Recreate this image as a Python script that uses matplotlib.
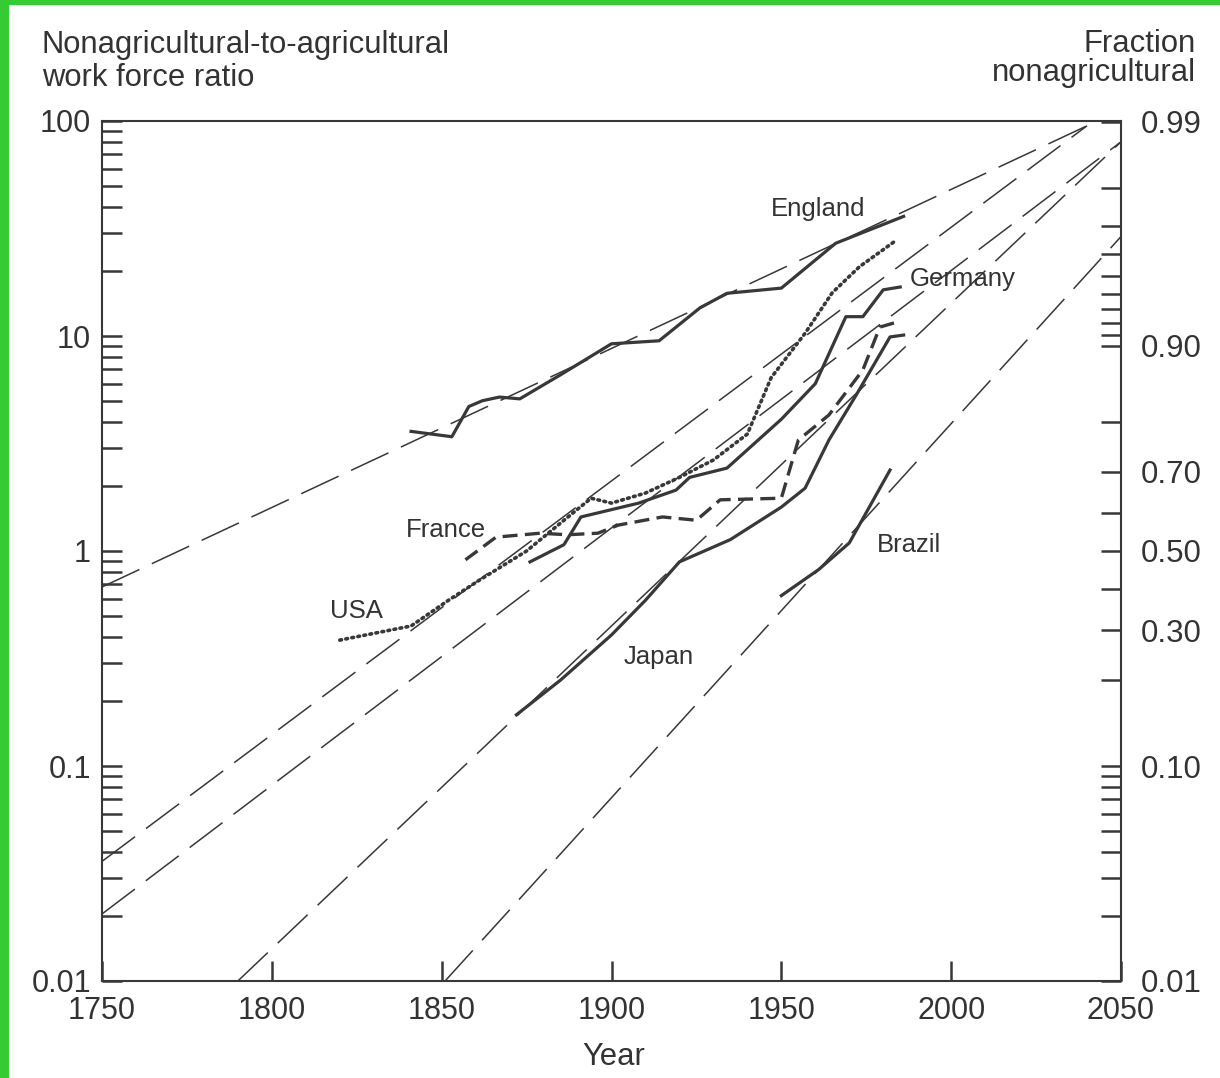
import matplotlib
matplotlib.use("Agg")
import matplotlib.pyplot as plt
from matplotlib.patches import Rectangle
from matplotlib.ticker import LogLocator, NullFormatter, FixedLocator, NullLocator

plt.rcParams["font.family"] = ["Liberation Sans", "DejaVu Sans"]

# data: (year, nonagricultural / agricultural ratio)
england_years = [1841, 1853, 1858, 1862, 1867, 1873, 1885, 1900, 1914, 1926, 1934, 1950, 1966, 1986]
england_ratio = [3.6, 3.4, 4.7, 5.0, 5.2, 5.1, 6.6, 9.2, 9.5, 13.5, 15.8, 16.7, 27, 36]

usa_years = [1820, 1841, 1852, 1861, 1875, 1886, 1894, 1900, 1910, 1920, 1930, 1940, 1947, 1957, 1965, 1973, 1984]
usa_ratio = [0.385, 0.448, 0.59, 0.73, 1.0, 1.39, 1.76, 1.67, 1.86, 2.2, 2.65, 3.5, 6.4, 10.3, 15.9, 21, 28]

germany_years = [1876, 1886, 1891, 1908, 1919, 1923, 1934, 1950, 1960, 1969, 1974, 1980, 1985]
germany_ratio = [0.89, 1.07, 1.44, 1.67, 1.92, 2.2, 2.43, 4.1, 6.0, 12.3, 12.3, 16.4, 16.9]

france_years = [1857, 1866, 1879, 1887, 1896, 1902, 1915, 1925, 1932, 1950, 1955, 1964, 1974, 1979, 1984]
france_ratio = [0.91, 1.16, 1.21, 1.19, 1.21, 1.32, 1.44, 1.39, 1.73, 1.76, 3.28, 4.29, 6.95, 11.0, 11.6]

japan_years = [1872, 1885, 1900, 1910, 1920, 1935, 1950, 1957, 1964, 1972, 1982, 1986]
japan_ratio = [0.173, 0.251, 0.407, 0.59, 0.89, 1.13, 1.6, 1.96, 3.28, 5.3, 9.9, 10.1]

brazil_years = [1950, 1961, 1970, 1982]
brazil_ratio = [0.62, 0.82, 1.09, 2.38]

# long-dashed trend lines: start and end points
trend_start_year = [1750, 1750, 1750, 1790, 1851]
trend_start_ratio = [0.68, 0.036, 0.0205, 0.01, 0.01]
trend_end_year = [2040, 2040, 2050, 2050, 2050]
trend_end_ratio = [95, 95, 80, 80, 29]

x_ticks = [1750, 1800, 1850, 1900, 1950, 2000, 2050]
left_ticks = [0.01, 0.1, 1, 10, 100]
left_labels = ["0.01", "0.1", "1", "10", "100"]
right_fracs = [0.99, 0.98, 0.97, 0.96, 0.95, 0.94, 0.93, 0.92, 0.91, 0.90,
               0.80, 0.70, 0.60, 0.50, 0.40, 0.30, 0.20,
               0.10, 0.09, 0.08, 0.07, 0.06, 0.05, 0.04, 0.03, 0.02, 0.01]
right_labeled = [0.99, 0.90, 0.70, 0.50, 0.30, 0.10, 0.01]

INK = "#383838"


def frac_to_ratio(f):
    # small fractions are put at ratio ~ fraction, as on the original scale
    if f <= 0.1:
        return f
    return f / (1 - f)


fig = plt.figure(figsize=(12.2, 10.78), dpi=100)
fig.patches.append(Rectangle((0, 1 - 4 / 1078), 1, 4 / 1078, transform=fig.transFigure,
                             color="#35cc33", zorder=0))
fig.patches.append(Rectangle((0, 0), 8 / 1220, 1, transform=fig.transFigure,
                             color="#35cc33", zorder=0))

ax = fig.add_axes([102 / 1220, 1 - 981 / 1078, 1019 / 1220, 860 / 1078])
ax.set_yscale("log")
ax.set_xlim(1750, 2050)
ax.set_ylim(0.01, 100)

for x0, y0, x1, y1 in zip(trend_start_year, trend_start_ratio, trend_end_year, trend_end_ratio):
    ax.plot([x0, x1], [y0, y1], color=INK, lw=1.1, linestyle=(0, (27, 9)))

solid = dict(color=INK, lw=2.3, solid_joinstyle="round")
ax.plot(england_years, england_ratio, **solid)
ax.plot(germany_years, germany_ratio, **solid)
ax.plot(japan_years, japan_ratio, **solid)
ax.plot(brazil_years, brazil_ratio, **solid)
ax.plot(usa_years, usa_ratio, color=INK, lw=2.6, linestyle=(0, (0.5, 1.2)),
        dash_capstyle="round")
ax.plot(france_years, france_ratio, color=INK, lw=2.4, linestyle=(0, (4.5, 2.2)))

label_kw = dict(fontsize=18.5, color="#333333", ha="center", va="center")
ax.text(1960.8, 39.0, "England", **label_kw)
ax.text(2003.5, 18.4, "Germany", **label_kw)
ax.text(1851.3, 1.25, "France", **label_kw)
ax.text(1824.8, 0.526, "USA", **label_kw)
ax.text(1914.0, 0.321, "Japan", **label_kw)
ax.text(1987.6, 1.07, "Brazil", **label_kw)

# left axis
ax.set_xticks(x_ticks)
ax.set_xticklabels([str(x) for x in x_ticks])
ax.set_yticks(left_ticks)
ax.set_yticklabels(left_labels)
ax.yaxis.set_minor_locator(LogLocator(base=10, subs=range(2, 10)))
ax.yaxis.set_minor_formatter(NullFormatter())
ax.tick_params(axis="both", which="both", direction="in", length=14.5, width=1.8,
               color=INK, labelcolor="#333333", labelsize=22)
ax.tick_params(axis="y", pad=8)
ax.tick_params(axis="x", pad=11)
for s in ax.spines.values():
    s.set_color(INK)
    s.set_linewidth(1.5)

# right axis: fraction nonagricultural
ax2 = ax.twinx()
ax2.set_yscale("log")
ax2.set_ylim(0.01, 100)
ax2.yaxis.set_major_locator(FixedLocator([frac_to_ratio(f) for f in right_fracs]))
ax2.yaxis.set_minor_locator(NullLocator())
ax2.set_yticklabels([f"{f:.2f}" if f in right_labeled else "" for f in right_fracs])
ax2.tick_params(axis="y", direction="in", length=14.5, width=1.8, color=INK,
                labelcolor="#333333", labelsize=22.5, pad=14)
for s in ax2.spines.values():
    s.set_visible(False)

txt = dict(fontsize=22.3, color="#333333")
fig.text(42 / 1220, 1 - 53 / 1078, "Nonagricultural-to-agricultural", ha="left", va="baseline", **txt)
fig.text(42 / 1220, 1 - 86 / 1078, "work force ratio", ha="left", va="baseline", **txt)
fig.text(1196 / 1220, 1 - 52 / 1078, "Fraction", ha="right", va="baseline", **txt)
fig.text(1196 / 1220, 1 - 81 / 1078, "nonagricultural", ha="right", va="baseline", **txt)
fig.text(614 / 1220, 1 - 1057 / 1078, "Year", ha="center", va="center", **txt)

fig.savefig("out.png", dpi=100, facecolor="white")
